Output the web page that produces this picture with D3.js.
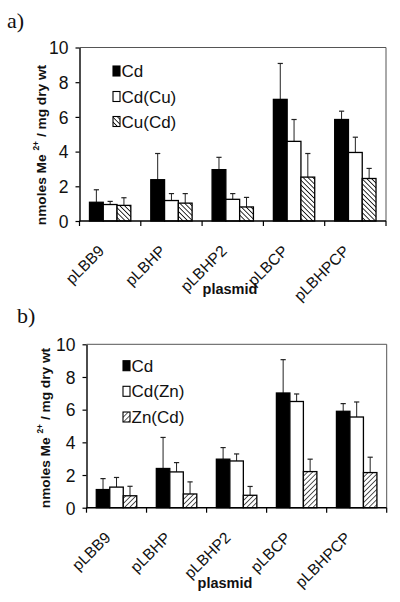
<!DOCTYPE html>
<html><head><meta charset="utf-8">
<script src="https://cdn.jsdelivr.net/npm/d3@7/dist/d3.min.js"></script>
<style>
html,body{margin:0;padding:0;background:#fff;}
svg{display:block;}
</style></head>
<body>
<script>
// ---- data ----
const categories = ["pLBB9", "pLBHP", "pLBHP2", "pLBCP", "pLBHPCP"];
const yTicks = [0, 2, 4, 6, 8, 10];

const seriesA = ["Cd", "Cd(Cu)", "Cu(Cd)"];
const cdA = [1.08, 2.38, 2.96, 7.01, 5.85];
const cdCuA = [0.95, 1.18, 1.25, 4.59, 3.95];
const cuCdA = [0.90, 1.03, 0.81, 2.53, 2.45];
const cdAErr = [0.72, 1.51, 0.71, 2.07, 0.48];
const cdCuAErr = [0.18, 0.40, 0.33, 1.26, 0.88];
const cuCdAErr = [0.44, 0.55, 0.55, 1.36, 0.58];

const seriesB = ["Cd", "Cd(Zn)", "Zn(Cd)"];
const cdB = [1.11, 2.40, 2.97, 7.02, 5.90];
const cdZnB = [1.26, 2.19, 2.86, 6.50, 5.55];
const znCdB = [0.73, 0.84, 0.76, 2.21, 2.15];
const cdBErr = [0.67, 1.90, 0.71, 2.04, 0.47];
const cdZnBErr = [0.59, 0.57, 0.43, 0.46, 0.92];
const znCdBErr = [0.58, 0.74, 0.54, 0.76, 0.94];

const W = 400, H = 602;
const svg = d3.select("body").append("svg").attr("width", W).attr("height", H);
const defs = svg.append("defs");

function hatch(id, angle, spacing, sw) {
  const p = defs.append("pattern").attr("id", id)
    .attr("patternUnits", "userSpaceOnUse")
    .attr("width", spacing).attr("height", spacing)
    .attr("patternTransform", `rotate(${angle})`);
  p.append("rect").attr("width", spacing).attr("height", spacing).attr("fill", "#fff");
  p.append("line").attr("x1", 0).attr("y1", 0).attr("x2", 0).attr("y2", spacing)
    .attr("stroke", "#000").attr("stroke-width", sw);
}
hatch("hatchA", -45, 3.4, 1.6);
hatch("hatchB", 45, 3.6, 1.3);

const FONT = "Liberation Sans, Arial, Helvetica, sans-serif";

function panel(o) {
  const g = svg.append("g");
  const y = d3.scaleLinear().domain([0, 10]).range([o.bottom, o.top]);
  const x0 = d3.scaleBand().domain(categories).range([o.left, o.right]).padding(0);
  const x1 = d3.scaleBand().domain(o.series).range([0, x0.bandwidth()])
    .paddingInner(0).paddingOuter(0.725);
  const fills = ["#000", "#fff", `url(#${o.hatch})`];

  // frame top/right
  g.append("line").attr("x1", o.left).attr("x2", o.right).attr("y1", y(10)).attr("y2", y(10))
    .attr("stroke", "#555").attr("stroke-width", 1);
  g.append("line").attr("x1", o.right).attr("x2", o.right).attr("y1", y(10)).attr("y2", y(0))
    .attr("stroke", "#555").attr("stroke-width", 1);

  // bars
  o.series.forEach((s, si) => {
    const vals = o.values[si], errs = o.errors[si];
    const gs = g.append("g");
    categories.forEach((c, ci) => {
      const bx = x0(c) + x1(s), bw = x1.bandwidth();
      const cx = bx + bw / 2;
      gs.append("line").attr("x1", cx).attr("x2", cx)
        .attr("y1", y(vals[ci])).attr("y2", y(vals[ci] + errs[ci]))
        .attr("stroke", "#222").attr("stroke-width", 1);
      gs.append("line").attr("x1", cx - 2.6).attr("x2", cx + 2.6)
        .attr("y1", y(vals[ci] + errs[ci])).attr("y2", y(vals[ci] + errs[ci]))
        .attr("stroke", "#222").attr("stroke-width", 1.2);
      gs.append("rect").attr("x", bx).attr("y", y(vals[ci]))
        .attr("width", bw).attr("height", y(0) - y(vals[ci]))
        .attr("fill", fills[si]).attr("stroke", "#000").attr("stroke-width", 1.3);
    });
  });

  // y axis
  const ya = g.append("g").attr("transform", `translate(${o.left},0)`)
    .call(d3.axisLeft(y).tickValues(yTicks).tickSize(4).tickSizeOuter(0).tickPadding(7));
  ya.select(".domain").attr("stroke", "#000").attr("stroke-width", 1.4);
  ya.selectAll(".tick line").attr("stroke", "#000").attr("stroke-width", 1.2);
  ya.selectAll(".tick text").attr("font-family", FONT).attr("font-size", 17.5)
    .attr("fill", "#111").attr("dy", "0.36em");

  // x axis
  g.append("line").attr("x1", o.left).attr("x2", o.right).attr("y1", y(0)).attr("y2", y(0))
    .attr("stroke", "#000").attr("stroke-width", 1.4);
  const bounds = categories.map(c => x0(c)).concat([x0.range()[1]]);
  g.selectAll(".xt").data(bounds).enter().append("line")
    .attr("x1", d => d).attr("x2", d => d).attr("y1", y(0)).attr("y2", y(0) + 5)
    .attr("stroke", "#000").attr("stroke-width", 1.2);
  g.selectAll(".xl").data(categories).enter().append("text")
    .attr("transform", d => `translate(${x0(d) + x0.bandwidth() / 2 - 5},${y(0) + 31}) rotate(-45)`)
    .attr("text-anchor", "end").attr("font-family", FONT).attr("font-size", 15.5)
    .attr("fill", "#111").text(d => d);

  // x title
  g.append("text").attr("x", o.xTitleX).attr("y", o.xTitleY).attr("text-anchor", "middle")
    .attr("font-family", FONT).attr("font-weight", "bold").attr("font-size", 14.5)
    .attr("fill", "#111").text("plasmid");

  // y title
  const t = g.append("text").attr("transform", `translate(${o.yTitleX},${o.yTitleCY}) rotate(-90)`)
    .attr("text-anchor", "middle").attr("font-family", FONT).attr("font-weight", "bold")
    .attr("font-size", 13.7).attr("fill", "#111");
  t.append("tspan").text("nmoles Me ");
  t.append("tspan").attr("font-size", 8.5).attr("dy", -7).text("2+");
  t.append("tspan").attr("dy", 7).text(" / mg dry wt");

  // legend
  o.series.forEach((s, si) => {
    const cy = o.legendY[si];
    g.append("rect").attr("x", o.legendX).attr("y", cy - 5).attr("width", 7).attr("height", 10)
      .attr("fill", fills[si]).attr("stroke", "#000").attr("stroke-width", 1.1);
    g.append("text").attr("x", o.legendX + 8.5).attr("y", cy + 6)
      .attr("font-family", FONT).attr("font-size", 17).attr("fill", "#111").text(s);
  });

  // panel label
  svg.append("text").attr("x", o.labelX).attr("y", o.labelY)
    .attr("font-family", "Liberation Serif, Times New Roman, serif").attr("font-size", 22)
    .attr("fill", "#111").text(o.label);
}

panel({
  left: 79.5, right: 386, top: 47.5, bottom: 221,
  series: seriesA, values: [cdA, cdCuA, cuCdA], errors: [cdAErr, cdCuAErr, cuCdAErr],
  hatch: "hatchA", legendX: 113, legendY: [71, 96.5, 121.5],
  xTitleX: 230, xTitleY: 294, yTitleX: 46, yTitleCY: 145,
  label: "a)", labelX: 7, labelY: 28
});
panel({
  left: 86.5, right: 386.7, top: 344.3, bottom: 507.7,
  series: seriesB, values: [cdB, cdZnB, znCdB], errors: [cdBErr, cdZnBErr, znCdBErr],
  hatch: "hatchB", legendX: 123, legendY: [365.7, 391.3, 417],
  xTitleX: 225, xTitleY: 588, yTitleX: 50, yTitleCY: 428,
  label: "b)", labelX: 17, labelY: 323
});
</script>
</body></html>
